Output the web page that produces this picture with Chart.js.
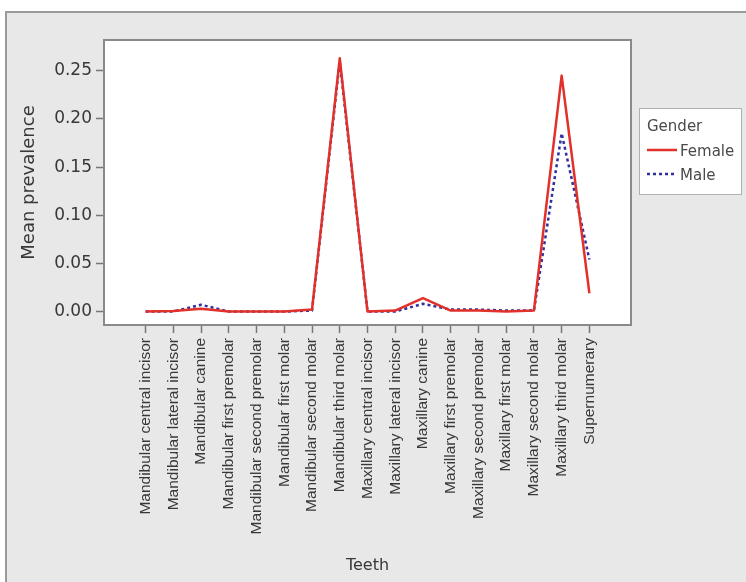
<!DOCTYPE html>
<html>
<head>
<meta charset="utf-8">
<script src="https://cdn.jsdelivr.net/npm/chart.js@4/dist/chart.umd.min.js"></script>
<style>
  html, body { margin: 0; padding: 0; background: #fff; }
  #wrap { width: 746px; height: 582px; }
</style>
</head>
<body>
<div id="wrap"><canvas id="chart" width="746" height="582"></canvas></div>
<script>
const categories = [
  'Mandibular central incisor', 'Mandibular lateral incisor', 'Mandibular canine',
  'Mandibular first premolar', 'Mandibular second premolar', 'Mandibular first molar',
  'Mandibular second molar', 'Mandibular third molar', 'Maxillary central incisor',
  'Maxillary lateral incisor', 'Maxillary canine', 'Maxillary first premolar',
  'Maxillary second premolar', 'Maxillary first molar', 'Maxillary second molar',
  'Maxillary third molar', 'Supernumerary'
];
const female = [0, 0.0005, 0.003, 0, 0, 0, 0.002, 0.263, 0, 0.001, 0.014, 0.001, 0.001, 0, 0.001, 0.245, 0.019];
const male   = [0, 0, 0.007, 0, 0, 0, 0.001, 0.26, 0, 0, 0.008, 0.002, 0.002, 0.001, 0.001, 0.185, 0.054];
const yTicks = [0, 0.05, 0.10, 0.15, 0.20, 0.25];
const legendTitle = 'Gender';

const textColor = '#383838';
const toPoints = arr => arr.map((v, i) => ({ x: i, y: v }));

// gray panel, white plot box and the outside legend
const decor = {
  id: 'decor',
  beforeDraw(chart) {
    const ctx = chart.ctx;
    const a = chart.chartArea;
    ctx.save();
    ctx.fillStyle = '#ffffff';
    ctx.fillRect(0, 0, chart.width, chart.height);
    ctx.fillStyle = '#e8e8e8';
    ctx.fillRect(6, 12, chart.width - 6, chart.height - 12);
    ctx.strokeStyle = '#9a9a9a';
    ctx.lineWidth = 2;
    ctx.beginPath();
    ctx.moveTo(6, chart.height);
    ctx.lineTo(6, 12);
    ctx.lineTo(chart.width, 12);
    ctx.stroke();
    ctx.fillStyle = '#ffffff';
    ctx.fillRect(a.left, a.top, a.right - a.left, a.bottom - a.top);
    ctx.restore();
  },
  afterDraw(chart) {
    const ctx = chart.ctx;
    const a = chart.chartArea;
    ctx.save();
    ctx.strokeStyle = '#8a8a8a';
    ctx.lineWidth = 2;
    ctx.strokeRect(a.left, a.top, a.right - a.left, a.bottom - a.top);

    // legend
    const lx = a.right + 8, ly = 108, lw = 102, lh = 86;
    ctx.fillStyle = '#ffffff';
    ctx.fillRect(lx, ly, lw, lh);
    ctx.strokeStyle = '#b0b0b0';
    ctx.lineWidth = 1;
    ctx.strokeRect(lx + 0.5, ly + 0.5, lw, lh);
    ctx.font = '15px "DejaVu Sans"';
    ctx.fillStyle = '#4a4a4a';
    ctx.textBaseline = 'middle';
    ctx.textAlign = 'left';
    ctx.fillText(legendTitle, lx + 8, ly + 19);
    chart.data.datasets.forEach((ds, i) => {
      const y = ly + 44 + i * 24;
      ctx.strokeStyle = ds.borderColor;
      ctx.lineWidth = ds.borderWidth;
      ctx.setLineDash(ds.borderDash || []);
      ctx.beginPath();
      ctx.moveTo(lx + 8, y - 2);
      ctx.lineTo(lx + 38, y - 2);
      ctx.stroke();
      ctx.setLineDash([]);
      ctx.fillStyle = '#4a4a4a';
      ctx.fillText(ds.label, lx + 41, y);
    });
    ctx.restore();
  }
};

new Chart(document.getElementById('chart'), {
  type: 'line',
  data: {
    datasets: [
      {
        label: 'Female',
        data: toPoints(female),
        borderColor: '#e2302a',
        borderWidth: 2.5,
        borderJoinStyle: 'round',
        pointRadius: 0,
        tension: 0
      },
      {
        label: 'Male',
        data: toPoints(male),
        borderColor: '#2f2f9e',
        borderWidth: 2.5,
        borderDash: [3, 3],
        borderJoinStyle: 'round',
        pointRadius: 0,
        tension: 0
      }
    ]
  },
  options: {
    responsive: false,
    animation: false,
    layout: { padding: { left: 0, top: 40, right: 115, bottom: 0 } },
    plugins: {
      legend: { display: false },
      tooltip: { enabled: false }
    },
    scales: {
      x: {
        type: 'linear',
        min: -1.5,
        max: 17.5,
        afterFit: s => { s.height = 257; },
        afterBuildTicks: s => { s.ticks = categories.map((c, i) => ({ value: i })); },
        grid: { drawOnChartArea: false, drawTicks: true, tickLength: 8, tickColor: '#777', tickWidth: 1.5 },
        border: { display: false },
        ticks: {
          autoSkip: false,
          minRotation: 90,
          maxRotation: 90,
          padding: 5,
          color: textColor,
          font: { family: 'Liberation Sans', size: 15.5 },
          callback: v => categories[v]
        },
        title: {
          display: true,
          text: 'Teeth',
          color: textColor,
          font: { family: 'DejaVu Sans', size: 16 },
          padding: { top: 0, bottom: 7 }
        }
      },
      y: {
        min: -0.014,
        max: 0.282,
        afterFit: s => { s.width = 104; },
        afterBuildTicks: s => { s.ticks = yTicks.map(v => ({ value: v })); },
        grid: { drawOnChartArea: false, drawTicks: true, tickLength: 8, tickColor: '#777', tickWidth: 1.5 },
        border: { display: false },
        ticks: {
          padding: 4,
          color: textColor,
          font: { family: 'DejaVu Sans', size: 17 },
          callback: v => v.toFixed(2)
        },
        title: {
          display: true,
          text: 'Mean prevalence',
          color: textColor,
          font: { family: 'DejaVu Sans', size: 18 },
          padding: { top: 19, bottom: 0 }
        }
      }
    }
  },
  plugins: [decor]
});
</script>
</body>
</html>
